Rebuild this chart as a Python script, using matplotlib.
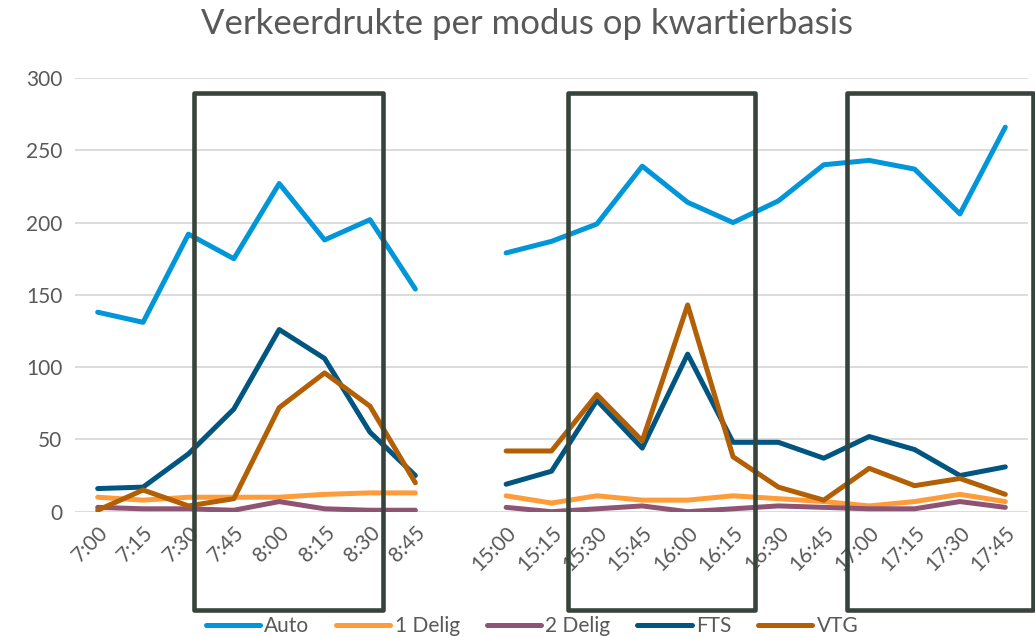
import matplotlib
matplotlib.use("Agg")
import matplotlib.pyplot as plt
from matplotlib.patches import Rectangle
import numpy as np

# time slots (morning and evening peak)
morning = ["7:00", "7:15", "7:30", "7:45", "8:00", "8:15", "8:30", "8:45"]
evening = ["15:00", "15:15", "15:30", "15:45", "16:00", "16:15",
           "16:30", "16:45", "17:00", "17:15", "17:30", "17:45"]

auto_am = [138, 131, 192, 175, 227, 188, 202, 154]
auto_pm = [179, 187, 199, 239, 214, 200, 215, 240, 243, 237, 206, 266]
delig1_am = [10, 8, 10, 10, 10, 12, 13, 13]
delig1_pm = [11, 6, 11, 8, 8, 11, 9, 7, 4, 7, 12, 7]
delig2_am = [3, 2, 2, 1, 7, 2, 1, 1]
delig2_pm = [3, 0, 2, 4, 0, 2, 4, 3, 2, 2, 7, 3]
fts_am = [16, 17, 40, 71, 126, 106, 55, 25]
fts_pm = [19, 28, 77, 44, 109, 48, 48, 37, 52, 43, 25, 31]
vtg_am = [1, 15, 4, 9, 72, 96, 73, 20]
vtg_pm = [42, 42, 81, 49, 143, 38, 17, 8, 30, 18, 23, 12]

series = ["Auto", "1 Delig", "2 Delig", "FTS", "VTG"]
colors = ["#0096D9", "#FF9C3A", "#8E5473", "#005581", "#B35F06"]

labels = morning + [""] + evening


def join(am, pm):
    # empty slot between the two periods breaks the line
    return np.array(am + [np.nan] + pm, dtype=float)


values = [join(auto_am, auto_pm), join(delig1_am, delig1_pm),
          join(delig2_am, delig2_pm), join(fts_am, fts_pm),
          join(vtg_am, vtg_pm)]

plt.rcParams["font.family"] = ["Lato", "DejaVu Sans"]
grey = "#595959"

fig = plt.figure(figsize=(10.35, 6.37), dpi=100)
ax = fig.add_axes([75 / 1035, 1 - 511.7 / 637, 953 / 1035, 433.7 / 637])

x = np.arange(len(labels))
for name, vals, col in zip(series, values, colors):
    ax.plot(x, vals, color=col, lw=3.6, label=name, solid_capstyle="round",
            solid_joinstyle="round")

ax.set_ylim(0, 300)
ax.set_xlim(-0.5, len(labels) - 0.5)
ax.set_yticks(range(0, 301, 50))
ax.set_xticks(x)
ax.set_xticklabels(labels, rotation=45, ha="right", rotation_mode="anchor")
ax.tick_params(axis="both", length=0, labelsize=15, colors=grey)
ax.tick_params(axis="y", pad=9)
ax.tick_params(axis="x", pad=8)
ax.grid(axis="y", color="#D9D9D9", lw=1.3)
ax.set_axisbelow(True)
for s in ax.spines.values():
    s.set_visible(False)

fig.text(527 / 1035, 1 - 24 / 637, "Verkeerdrukte per modus op kwartierbasis",
         ha="center", va="center", fontsize=25, color=grey)

fig.legend(loc="center", bbox_to_anchor=(532 / 1035, 1 - 626 / 637), ncol=5,
           frameon=False, fontsize=15, handlelength=2.6, handletextpad=0.2,
           columnspacing=1.3, labelcolor=grey)

# highlighted peak periods
boxes = [(194, 383), (568, 755), (847, 1033)]
for x0, x1 in boxes:
    fig.patches.append(Rectangle((x0 / 1035, 1 - 610 / 637), (x1 - x0) / 1035,
                                 517 / 637, transform=fig.transFigure,
                                 fill=False, ec="#36443B", lw=3.3,
                                 joinstyle="round", zorder=10))

fig.savefig("out.png", dpi=100)
